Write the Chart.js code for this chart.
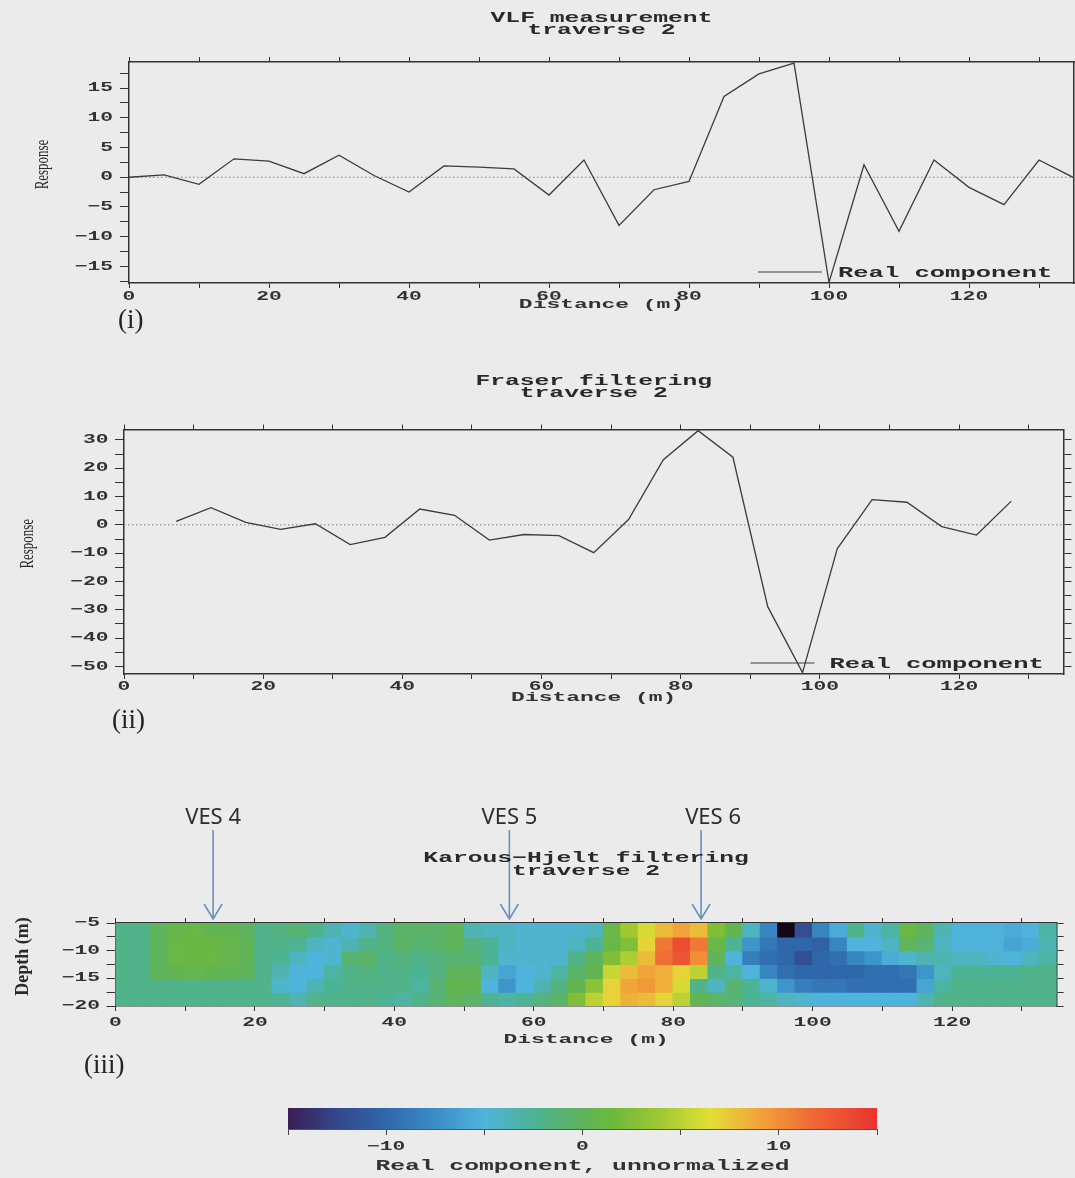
<!DOCTYPE html>
<html>
<head>
<meta charset="utf-8">
<script src="https://cdn.jsdelivr.net/npm/chart.js@4.4.1/dist/chart.umd.min.js"></script>
<style>
html,body{margin:0;padding:0;background:#ebebeb;}
body{width:1075px;height:1178px;position:relative;overflow:hidden;}
.box{position:absolute;left:0;width:1075px;}
.tag{position:absolute;font-family:'Liberation Serif','Times New Roman',serif;font-size:27px;line-height:31px;color:#222;}
</style>
</head>
<body>
<div class="box" style="top:0;height:320px"><canvas id="c1"></canvas></div>
<div class="box" style="top:363px;height:350px"><canvas id="c2"></canvas></div>
<div class="box" style="top:790px;height:263px"><canvas id="c3"></canvas></div>
<div class="box" style="top:1090px;height:88px"><canvas id="c4"></canvas></div>
<div class="tag" id="t1" style="left:118px;top:304px"></div>
<div class="tag" id="t2" style="left:112px;top:704px"></div>
<div class="tag" id="t3" style="left:84px;top:1049px"></div>
<script>
// ---------------- data ----------------
const panelTags = ['(i)', '(ii)', '(iii)'];
const seriesName = 'Real component';
const distanceLabel = 'Distance (m)';
const responseLabel = 'Response';
const depthLabel = 'Depth (m)';
const colorbarLabel = 'Real component, unnormalized';

const distanceRange = [0, 135];

// (i) VLF measurement
const vlfTitle = ['VLF measurement', 'traverse 2'];
const vlfRange = [-17.8, 19.4];
const vlfDistance = [0, 5, 10, 15, 20, 25, 30, 35, 40, 45, 50, 55, 60, 65, 70, 75, 80, 85, 90, 95, 100, 105, 110, 115, 120, 125, 130, 135];
const vlfReal = [0, 0.4, -1.2, 3.1, 2.7, 0.6, 3.7, 0.3, -2.5, 1.9, 1.7, 1.4, -3.0, 2.9, -8.1, -2.1, -0.7, 13.6, 17.4, 19.2, -17.7, 2.1, -9.1, 2.9, -1.7, -4.6, 2.9, -0.1];

// (ii) Fraser filtering
const fraserTitle = ['Fraser filtering', 'traverse 2'];
const fraserRange = [-52.7, 33.7];
const fraserDistance = [7.5, 12.5, 17.5, 22.5, 27.5, 32.5, 37.5, 42.5, 47.5, 52.5, 57.5, 62.5, 67.5, 72.5, 77.5, 82.5, 87.5, 92.5, 97.5, 102.5, 107.5, 112.5, 117.5, 122.5, 127.5];
const fraserReal = [1.2, 6.1, 0.9, -1.6, 0.4, -7.0, -4.4, 5.6, 3.4, -5.4, -3.4, -3.8, -9.8, 1.9, 23.0, 33.3, 23.9, -28.9, -52.2, -8.4, 8.9, 8.0, -0.6, -3.6, 8.4];

// (iii) Karous-Hjelt filtering: cells of 2.5 m (distance) x 2.5 m (depth)
const khTitle = ['Karous\u2212Hjelt filtering', 'traverse 2'];
const khDistanceStart = 0;
const khDistanceStep = 2.5;
const khDepthEdges = [-5, -7.5, -10, -12.5, -15, -17.5, -20];
const khDepth5to7 = [-2, -2, 0, 0.8, 1, 0.5, 0.5, 0, -2, -1.5, -1, -2, -3.5, -4.5, -3.5, -1.5, -0.5, -0.5, -0.5, 0, -3.5, -4, -4, -4.5, -4.5, -4.5, -4.5, -4, 1, 4, 6, 8, 9, 8, 2.5, 0.5, -4, -8, -17, -12, -8, -5.5, -2, -4.5, -3, 1, 0, -3.5, -5, -5, -5, -5.5, -5, -3];
const khDepth7to10 = [-2, -2, 0, 1, 1.2, 1.2, 0.8, 0.3, -2, -2, -2.5, -4, -4.5, -3.5, -2, -1.5, -0.5, -1, -0.5, 0, -1.5, -2.5, -4, -4.5, -4.5, -4.5, -4, -2.5, 1, 2.5, 7, 11, 13.5, 11, 1, -2.5, -7, -9, -10, -10, -10.5, -8, -5, -5, -4, 0, -1, -4, -5, -5, -5, -6, -5.5, -3.5];
const khDepth10to12 = [-2, -2, 0, 1, 1.2, 1, 0.8, 0.2, -2, -2.5, -4, -5, -4.5, -1, -0.5, -2, -1.5, -2, -1.5, -1, -1, -2.5, -4.5, -4.5, -4.5, -4.5, -2, 0, 2.5, 4.5, 8, 11.5, 13, 10, 0, -5, -8.5, -9.5, -10, -12, -10, -9.5, -8, -7, -5.5, -4.5, -3.5, -3.5, -4, -4, -4.5, -5, -4, -3];
const khDepth12to15 = [-2, -2, 0, 0.5, 0.6, 0.5, 0.3, 0, -2, -3.5, -5, -5, -3, -2, -1.5, -2, -2, -2.5, -1.5, 0, 0, -4, -6, -5, -4.5, -3, -0.5, 0.5, 5.5, 8, 9, 8.5, 7, 5, -2, -3, -5, -8, -9.5, -10, -10, -10, -10, -9.5, -9.5, -9, -7, -4, -2.5, -2.5, -2.5, -2.5, -2, -2];
const khDepth15to17 = [-2, -2, -2, -2, -2, -2, -2, -2, -2, -4.5, -5, -3.5, -2.5, -2, -2, -2, -2, -3, -1, 0.5, 0.5, -5, -7, -5, -3.5, -1.5, 0.5, 3, 7, 9, 9.5, 8.5, 6, -2, -4, -1, -2.5, -4.5, -7, -8.5, -9, -9, -9.5, -9.5, -9.5, -9.5, -6, -3, -2, -2, -2, -2, -2, -2];
const khDepth17to20 = [-2, -2, -2, -2, -2, -2, -2, -2, -2, -2.5, -3.5, -2, -2, -2, -2, -2.5, -3, -2, -1, 0, -0.5, -2.5, -3, -2.5, -1.5, -0.5, 2.5, 5, 7, 8.5, 8, 7, 5, 0.5, -0.5, -1, -2.5, -3, -4, -4.5, -5, -5, -5, -5, -5, -5, -3.5, -2, -2, -2, -2, -2, -2, -2];

const vesNames = ['VES 4', 'VES 5', 'VES 6'];
const vesDistance = [14, 56.5, 84];

// colour scale
const colorbarRange = [-15, 15];
const cmapValues = [-17, -15, -12.5, -10, -7.5, -5, -2.5, 0, 1.5, 4, 6.5, 9, 11.5, 15];
const cmapColors = ['#120818', '#3a1d55', '#34478c', '#2f68aa', '#3a8dc6', '#4fb4dc', '#4db395', '#5fb45c', '#6cb83c', '#a0c833', '#e3df36', '#f1a43a', '#f06d36', '#e8332f'];

// ---------------- helpers ----------------
const MONO = "'Liberation Mono','DejaVu Sans Mono',monospace";
const INK = '#333333';
const LINE = '#3c3c3c';
const STRETCH = 1.7;

document.getElementById('t1').textContent = panelTags[0];
document.getElementById('t2').textContent = panelTags[1];
document.getElementById('t3').textContent = panelTags[2];

function hexRgb(h) { return [1, 3, 5].map(i => parseInt(h.substr(i, 2), 16)); }
function cmap(v) {
  if (v <= cmapValues[0]) return cmapColors[0];
  for (let i = 1; i < cmapValues.length; i++) {
    if (v <= cmapValues[i]) {
      const t = (v - cmapValues[i - 1]) / (cmapValues[i] - cmapValues[i - 1]);
      const a = hexRgb(cmapColors[i - 1]), b = hexRgb(cmapColors[i]);
      const c = a.map((x, k) => Math.round(x + (b[k] - x) * t));
      return 'rgb(' + c.join(',') + ')';
    }
  }
  return cmapColors[cmapColors.length - 1];
}
function fmt(v) { return v < 0 ? '\u2212' + Math.abs(v) : String(v); }
function isMult(v, s) { const r = Math.abs(v / s - Math.round(v / s)); return r < 1e-6; }

// horizontally widened plotter-style monospaced text
function stretchCtx(canvas) {
  const ctx = canvas.getContext('2d');
  const orig = ctx.fillText.bind(ctx);
  ctx._plainFill = orig;
  ctx.fillText = function (t, x, y, mw) {
    this.save(); this.translate(x, y); this.scale(STRETCH, 1);
    if (mw === undefined || mw === null) orig(t, 0, 0); else orig(t, 0, 0, mw / STRETCH);
    this.restore();
  };
  return ctx;
}

const tickFont = { family: MONO, size: 12.5, weight: 'bold' };
function xAxis(o) {
  return {
    type: 'linear', position: 'bottom', min: distanceRange[0], max: distanceRange[1], offset: false,
    border: { display: true, color: INK, width: 1.5 },
    grid: { drawOnChartArea: false, tickLength: o.tl, color: INK, offset: false },
    ticks: { stepSize: 10, autoSkip: false, maxRotation: 0, minRotation: 0, includeBounds: false, padding: o.pad, color: INK, font: tickFont,
      callback: v => isMult(v, 20) ? fmt(v) : '' },
    title: { display: true, text: distanceLabel, color: INK, font: { family: MONO, size: 13.5, weight: 'bold', lineHeight: 1 }, padding: 0 },
    afterFit: s => { s.height = o.h; }
  };
}
function xTop(h) {
  return {
    type: 'linear', position: 'top', min: distanceRange[0], max: distanceRange[1], offset: false,
    border: { display: true, color: INK, width: 1.5 },
    grid: { drawOnChartArea: false, tickLength: 5, color: INK, offset: false },
    ticks: { display: false, stepSize: 10, autoSkip: false, includeBounds: false },
    afterFit: s => { s.height = h; }
  };
}
function yAxis(o) {
  return {
    type: 'linear', position: 'left', min: o.min, max: o.max,
    border: { display: true, color: INK, width: 1.5 },
    grid: { drawOnChartArea: false, tickLength: o.tl, color: INK },
    ticks: { stepSize: o.step, autoSkip: false, includeBounds: false, padding: o.pad, color: INK, font: tickFont,
      callback: v => isMult(v, o.labelStep) ? fmt(v) : '' },
    afterFit: s => { s.width = o.w; }
  };
}
function yRight(o) {
  return {
    type: 'linear', position: 'right', min: o.min, max: o.max,
    border: { display: true, color: INK, width: 1.5 },
    grid: { drawOnChartArea: false, drawTicks: o.tl > 0, tickLength: o.tl, color: INK },
    ticks: { display: false, stepSize: o.step, autoSkip: false, includeBounds: false },
    afterFit: s => { s.width = o.w; }
  };
}

// ---------------- plugins ----------------
const areaTitle = {
  id: 'areaTitle',
  afterDraw(chart, args, o) {
    const { ctx, chartArea: a } = chart;
    const cx = (a.left + a.right) / 2;
    ctx.save();
    ctx.fillStyle = '#2a2a2a'; ctx.font = 'bold 14.5px ' + MONO; ctx.textAlign = 'center'; ctx.textBaseline = 'middle';
    o.text.forEach((line, i) => ctx.fillText(line, cx, o.y + i * 12.5));
    ctx.restore();
  }
};
const zeroLine = {
  id: 'zeroLine',
  beforeDatasetsDraw(chart) {
    const { ctx, chartArea: a, scales: { y } } = chart;
    const py = y.getPixelForValue(0);
    ctx.save(); ctx.strokeStyle = '#7d7d7d'; ctx.lineWidth = 1; ctx.setLineDash([1.5, 2.5]);
    ctx.beginPath(); ctx.moveTo(a.left, py); ctx.lineTo(a.right, py); ctx.stroke(); ctx.restore();
  }
};
const insideLegend = {
  id: 'insideLegend',
  afterDatasetsDraw(chart, args, o) {
    const { ctx, chartArea: a } = chart;
    const ds = chart.data.datasets[0];
    const y = a.bottom - o.dy;
    ctx.save();
    ctx.strokeStyle = ds.borderColor; ctx.lineWidth = 1.2;
    ctx.beginPath(); ctx.moveTo(a.right - o.lineStart, y); ctx.lineTo(a.right - o.lineEnd, y); ctx.stroke();
    ctx.fillStyle = '#2a2a2a'; ctx.font = 'bold 15px ' + MONO; ctx.textAlign = 'left'; ctx.textBaseline = 'middle';
    ctx.fillText(ds.label, a.right - o.textStart, y + 1);
    ctx.restore();
  }
};
const sideTitle = {
  id: 'sideTitle',
  afterDraw(chart, args, o) {
    const { ctx, chartArea: a } = chart;
    ctx.save();
    ctx.translate(o.x, (a.top + a.bottom) / 2 + o.dy);
    ctx.rotate(-Math.PI / 2); ctx.scale(o.sx, 1);
    ctx.font = o.font; ctx.fillStyle = '#2a2a2a'; ctx.textAlign = 'center'; ctx.textBaseline = 'middle';
    ctx._plainFill(o.text, 0, 0);
    ctx.restore();
  }
};
const vesMarks = {
  id: 'vesMarks',
  afterDraw(chart, args, o) {
    const { ctx, chartArea: a, scales: { x } } = chart;
    vesDistance.forEach((d, i) => {
      const px = x.getPixelForValue(d);
      const tip = a.top - 4, start = tip - 89;
      ctx.save();
      ctx.strokeStyle = '#6b90b8'; ctx.lineWidth = 1.6;
      ctx.beginPath(); ctx.moveTo(px, start); ctx.lineTo(px, tip);
      ctx.moveTo(px - 9, tip - 15); ctx.lineTo(px, tip); ctx.lineTo(px + 9, tip - 15); ctx.stroke();
      ctx.font = '22px "Noto Sans","Open Sans",sans-serif'; ctx.fillStyle = '#2e2e2e';
      ctx.textAlign = 'center'; ctx.textBaseline = 'middle';
      ctx._plainFill(vesNames[i], px + o.dx[i], start - 12);
      ctx.restore();
    });
  }
};
const colorbarFill = {
  id: 'colorbarFill',
  beforeDatasetsDraw(chart) {
    const { ctx, chartArea: a, scales: { x } } = chart;
    const g = ctx.createLinearGradient(a.left, 0, a.right, 0);
    const steps = 120;
    for (let i = 0; i <= steps; i++) {
      const v = colorbarRange[0] + (colorbarRange[1] - colorbarRange[0]) * i / steps;
      g.addColorStop((x.getPixelForValue(v) - a.left) / (a.right - a.left), cmap(v));
    }
    ctx.save(); ctx.fillStyle = g; ctx.fillRect(a.left, a.top, a.right - a.left, a.bottom - a.top); ctx.restore();
  }
};

const common = { responsive: true, maintainAspectRatio: false, animation: false, events: [] };

// ---------------- (i) VLF ----------------
new Chart(stretchCtx(document.getElementById('c1')), {
  type: 'line',
  data: { datasets: [{ label: seriesName, data: vlfDistance.map((x, i) => ({ x: x, y: vlfReal[i] })),
    borderColor: LINE, borderWidth: 1.3, pointRadius: 0, tension: 0, fill: false }] },
  options: Object.assign({}, common, {
    layout: { padding: { left: 0, right: 1, top: 0, bottom: 9 } },
    plugins: {
      legend: { display: false }, tooltip: { enabled: false }, title: { display: false },
      areaTitle: { text: vlfTitle, y: 18 },
      insideLegend: { dy: 11, lineStart: 316, lineEnd: 252, textStart: 236 },
      sideTitle: { text: responseLabel, x: 43, dy: -8, font: '18px "Liberation Serif"', sx: 0.72 }
    },
    scales: {
      x: xAxis({ tl: 5, pad: 1, h: 28 }),
      x2: xTop(62),
      y: yAxis({ min: vlfRange[0], max: vlfRange[1], step: 2.5, labelStep: 5, tl: 9, pad: 7, w: 129 }),
      y2: yRight({ min: vlfRange[0], max: vlfRange[1], step: 2.5, tl: 0, w: 0 })
    }
  }),
  plugins: [zeroLine, insideLegend, sideTitle, areaTitle]
});

// ---------------- (ii) Fraser ----------------
new Chart(stretchCtx(document.getElementById('c2')), {
  type: 'line',
  data: { datasets: [{ label: seriesName, data: fraserDistance.map((x, i) => ({ x: x, y: fraserReal[i] })),
    borderColor: LINE, borderWidth: 1.3, pointRadius: 0, tension: 0, fill: false }] },
  options: Object.assign({}, common, {
    layout: { padding: { left: 0, right: 1.5, top: 0, bottom: 8.25 } },
    plugins: {
      legend: { display: false }, tooltip: { enabled: false }, title: { display: false },
      areaTitle: { text: fraserTitle, y: 18 },
      insideLegend: { dy: 11, lineStart: 313, lineEnd: 249, textStart: 234 },
      sideTitle: { text: responseLabel, x: 28, dy: -8, font: '18px "Liberation Serif"', sx: 0.72 }
    },
    scales: {
      x: xAxis({ tl: 5, pad: 0, h: 30.75 }),
      x2: xTop(66.5),
      y: yAxis({ min: fraserRange[0], max: fraserRange[1], step: 5, labelStep: 10, tl: 9, pad: 6.5, w: 124 }),
      y2: yRight({ min: fraserRange[0], max: fraserRange[1], step: 5, tl: 8, w: 10 })
    }
  }),
  plugins: [zeroLine, insideLegend, sideTitle, areaTitle]
});

// ---------------- (iii) Karous-Hjelt ----------------
const khRows = [khDepth5to7, khDepth7to10, khDepth10to12, khDepth12to15, khDepth15to17, khDepth17to20];
const khDatasets = khRows.map((vals, r) => ({
  label: 'depth ' + khDepthEdges[r] + ' to ' + khDepthEdges[r + 1],
  data: vals.map((v, c) => ({ x: khDistanceStart + (c + 0.5) * khDistanceStep, y: [khDepthEdges[r + 1], khDepthEdges[r]] })),
  backgroundColor: vals.map(cmap),
  borderWidth: 0, borderSkipped: false, grouped: false, barPercentage: 1, categoryPercentage: 1, inflateAmount: 0.6
}));
new Chart(stretchCtx(document.getElementById('c3')), {
  type: 'bar',
  data: { datasets: khDatasets },
  options: Object.assign({}, common, {
    layout: { padding: { left: 0, right: 6.4, top: 0, bottom: 6.25 } },
    plugins: {
      legend: { display: false }, tooltip: { enabled: false }, title: { display: false },
      areaTitle: { text: khTitle, y: 68.5 },
      sideTitle: { text: depthLabel, x: 23, dy: -8, font: 'bold 18px "Liberation Serif"', sx: 1 },
      vesMarks: { dx: [0, 0, 12] }
    },
    scales: {
      x: xAxis({ tl: 5, pad: 4.5, h: 40.75 }),
      x2: xTop(133),
      y: yAxis({ min: -20, max: -5, step: 2.5, labelStep: 5, tl: 9, pad: 6.5, w: 115.5 }),
      y2: yRight({ min: -20, max: -5, step: 2.5, tl: 7, w: 12 })
    }
  }),
  plugins: [sideTitle, vesMarks, areaTitle]
});

// ---------------- colour bar ----------------
new Chart(stretchCtx(document.getElementById('c4')), {
  type: 'scatter',
  data: { datasets: [] },
  options: Object.assign({}, common, {
    layout: { padding: { left: 288, right: 198, top: 18, bottom: 4.75 } },
    plugins: { legend: { display: false }, tooltip: { enabled: false } },
    scales: {
      x: {
        type: 'linear', min: colorbarRange[0], max: colorbarRange[1],
        border: { display: true, color: '#555', width: 1 },
        grid: { drawOnChartArea: false, tickLength: 6, color: '#444' },
        ticks: { stepSize: 5, autoSkip: false, includeBounds: false, maxRotation: 0, padding: 4.5, color: INK, font: tickFont,
          callback: v => isMult(v, 10) ? fmt(v) : '' },
        title: { display: true, text: colorbarLabel, color: INK, font: { family: MONO, size: 14.5, weight: 'bold', lineHeight: 1 }, padding: 0 },
        afterFit: s => { s.height = 44.25; }
      },
      y: { display: false, min: 0, max: 1 }
    }
  }),
  plugins: [colorbarFill]
});
</script>
</body>
</html>
